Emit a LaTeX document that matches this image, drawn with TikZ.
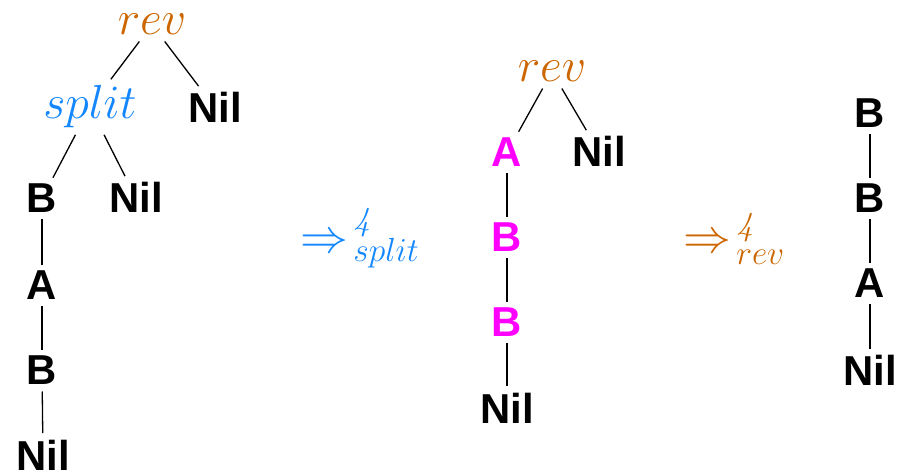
\RequirePackage{fix-cm}
\documentclass[tikz,border=0pt]{standalone}
\usepackage{fontspec}
\setsansfont{Liberation Sans}
\definecolor{revc}{RGB}{204,102,0}
\definecolor{splitc}{RGB}{20,135,255}
\definecolor{magc}{RGB}{255,0,255}
\begin{document}
\begin{tikzpicture}[x=1bp,y=-1bp,
  every node/.style={inner sep=6.5bp, outer sep=0pt},
  term/.style={font=\fontsize{42}{50}\selectfont\sffamily\bfseries, anchor=base},
  fun/.style={font=\fontsize{48}{58}\selectfont, anchor=base},
  edge/.style={line width=1.3bp}]
\useasboundingbox (0,0) rectangle (901,475);
% tree 1
\node[fun, text=revc] (rev1) at (152,35) {$rev$};
\node[fun, text=splitc] (split1) at (90,119) {$split$};
\node[term] (nilA) at (215,123) {Nil};
\node[term] (b1) at (42,213) {B};
\node[term] (nilB) at (136,213) {Nil};
\node[term] (a1) at (42,300) {A};
\node[term] (b2) at (42,385) {B};
\node[term] (nilC) at (43,470) {Nil};
\draw[edge] (rev1) -- (split1);
\draw[edge] (rev1) -- (nilA);
\draw[edge] (split1) -- (b1);
\draw[edge] (split1) -- (nilB);
\draw[edge] (b1) -- (a1);
\draw[edge] (a1) -- (b2);
\draw[edge] (b2) -- (nilC);
% arrow 1
\node[fun, anchor=base west, inner sep=0pt, text=splitc] (ar1) at (300,253) {$\Rightarrow^{\mkern3mu\mathit{4}}_{\mkern3mu split}$};
% tree 2
\node[fun, text=revc] (rev2) at (552,82) {$rev$};
\node[term, text=magc] (a2) at (507,167) {A};
\node[term] (nilD) at (599,167) {Nil};
\node[term, text=magc] (b3) at (507,252) {B};
\node[term, text=magc] (b4) at (507,337) {B};
\node[term] (nilE) at (507,423) {Nil};
\draw[edge] (rev2) -- (a2);
\draw[edge] (rev2) -- (nilD);
\draw[edge] (a2) -- (b3);
\draw[edge] (b3) -- (b4);
\draw[edge] (b4) -- (nilE);
% arrow 2
\node[fun, anchor=base west, inner sep=0pt, text=revc] (ar2) at (683,253) {$\Rightarrow^{\mkern3mu\mathit{4}}_{\mkern3mu rev}$};
% tree 3
\node[term] (b5) at (870,128) {B};
\node[term] (b6) at (870,213) {B};
\node[term] (a3) at (870,298) {A};
\node[term] (nilF) at (870,386) {Nil};
\draw[edge] (b5) -- (b6);
\draw[edge] (b6) -- (a3);
\draw[edge] (a3) -- (nilF);
\end{tikzpicture}
\end{document}
